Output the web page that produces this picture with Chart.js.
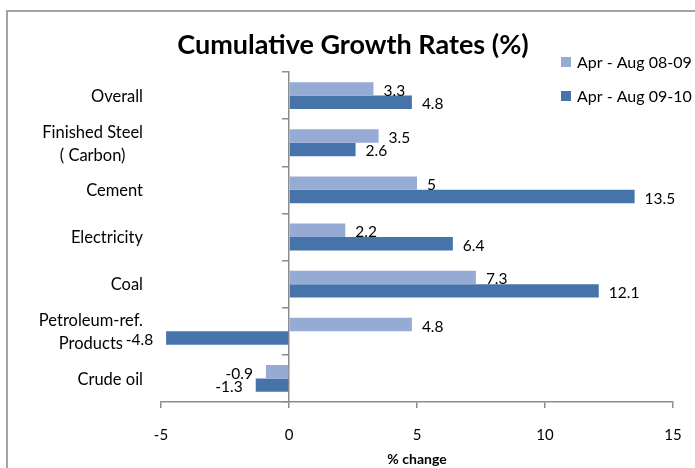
<!DOCTYPE html>
<html>
<head>
<meta charset="utf-8">
<script src="https://cdn.jsdelivr.net/npm/chart.js@4/dist/chart.umd.min.js"></script>
<style>
  body { margin: 0; background: #fff; }
  canvas { display: block; }
</style>
</head>
<body>
<canvas id="growthChart" width="695" height="468"></canvas>
<script>
const categories = [
  ["Overall"],
  ["Finished Steel", "( Carbon)"],
  ["Cement"],
  ["Electricity"],
  ["Coal"],
  ["Petroleum-ref.", "Products"],
  ["Crude oil"],
];
const seriesNames = ["Apr - Aug 08-09", "Apr - Aug 09-10"];
const growth0809 = [3.3, 3.5, 5, 2.2, 7.3, 4.8, -0.9];
const growth0910 = [4.8, 2.6, 13.5, 6.4, 12.1, -4.8, -1.3];
const xTicks = [-5, 0, 5, 10, 15];

const LIGHT = "#95abd3";
const DARK = "#4674aa";
const AXIS = "#8c8c8c";
const FONT = "Lato, 'Open Sans', sans-serif";

// frame, title and legend drawn around the plot
const decorations = {
  id: "decorations",
  beforeDraw(chart) {
    const ctx = chart.ctx;
    ctx.save();
    ctx.strokeStyle = "#a3a3a3";
    ctx.lineWidth = 2;
    ctx.strokeRect(7, 11, 760, 520);
    ctx.restore();
  },
  afterDraw(chart) {
    const ctx = chart.ctx;
    ctx.save();
    ctx.fillStyle = "#000";
    ctx.font = "bold 27px " + FONT;
    ctx.textAlign = "center";
    ctx.textBaseline = "alphabetic";
    ctx.fillText("Cumulative Growth Rates (%)", 353, 54);

    ctx.font = "16px " + FONT;
    ctx.textAlign = "left";
    ctx.textBaseline = "middle";
    [LIGHT, DARK].forEach((c, i) => {
      const y = 62 + i * 34;
      ctx.fillStyle = c;
      ctx.fillRect(561, y - 5, 10, 10);
      ctx.fillStyle = "#000";
      ctx.fillText(seriesNames[i], 577, y + 1);
    });
    ctx.restore();
  },
};

// category names, lines centred within each label block
const categoryLabels = {
  id: "categoryLabels",
  afterDraw(chart) {
    const ctx = chart.ctx;
    const y = chart.scales.y;
    const right = 143;
    const lineH = 23;
    ctx.save();
    ctx.font = "16.5px " + FONT;
    ctx.fillStyle = "#000";
    ctx.textAlign = "center";
    ctx.textBaseline = "middle";
    categories.forEach((lines, i) => {
      const cy = y.getPixelForValue(i) + 1;
      const w = Math.max(...lines.map((l) => ctx.measureText(l).width));
      const cx = right - w / 2;
      lines.forEach((l, k) => {
        ctx.fillText(l, cx, cy + (k - (lines.length - 1) / 2) * lineH);
      });
    });
    ctx.restore();
  },
};

// value labels just outside the end of each bar
const valueLabels = {
  id: "valueLabels",
  afterDatasetsDraw(chart) {
    const ctx = chart.ctx;
    ctx.save();
    ctx.font = "15.5px " + FONT;
    ctx.fillStyle = "#000";
    ctx.textBaseline = "middle";
    chart.data.datasets.forEach((ds, di) => {
      chart.getDatasetMeta(di).data.forEach((bar, i) => {
        const v = ds.data[i];
        const neg = v < 0;
        ctx.textAlign = neg ? "right" : "left";
        ctx.fillText(String(v), bar.x + (neg ? -13 : 10), bar.y + 2);
      });
    });
    ctx.restore();
  },
};

new Chart(document.getElementById("growthChart"), {
  type: "bar",
  data: {
    labels: categories.map((c) => c.join(" ")),
    datasets: [
      { label: seriesNames[0], data: growth0809, backgroundColor: LIGHT },
      { label: seriesNames[1], data: growth0910, backgroundColor: DARK },
    ],
  },
  options: {
    indexAxis: "y",
    responsive: false,
    animation: false,
    layout: { padding: { left: 161, right: 22, top: 72, bottom: 0 } },
    datasets: { bar: { categoryPercentage: 0.57, barPercentage: 1 } },
    plugins: {
      legend: { display: false },
      title: { display: false },
      tooltip: { enabled: false },
    },
    scales: {
      x: {
        type: "linear",
        position: "bottom",
        min: -5,
        max: 15,
        afterBuildTicks: (s) => { s.ticks = xTicks.map((v) => ({ value: v })); },
        afterFit: (s) => {
          s.height = 66;
          s.paddingLeft = 0;
          s.paddingRight = 0;
        },
        ticks: { color: "#000", font: { family: FONT, size: 15 }, padding: 18 },
        grid: { drawOnChartArea: false, color: AXIS, tickLength: 6, lineWidth: 1.5 },
        border: { color: AXIS, width: 1.5 },
        title: {
          display: true,
          text: "% change",
          color: "#000",
          font: { family: FONT, size: 14, weight: "bold" },
          padding: { top: 0, bottom: 0 },
        },
      },
      y: {
        type: "category",
        position: { x: 0 },
        afterFit: (s) => { s.width = 0; },
        ticks: { display: false },
        grid: { drawOnChartArea: false, color: AXIS, tickLength: 6, lineWidth: 1.5, offset: true },
        border: { color: AXIS, width: 1.5 },
      },
    },
  },
  plugins: [decorations, categoryLabels, valueLabels],
});
</script>
</body>
</html>
